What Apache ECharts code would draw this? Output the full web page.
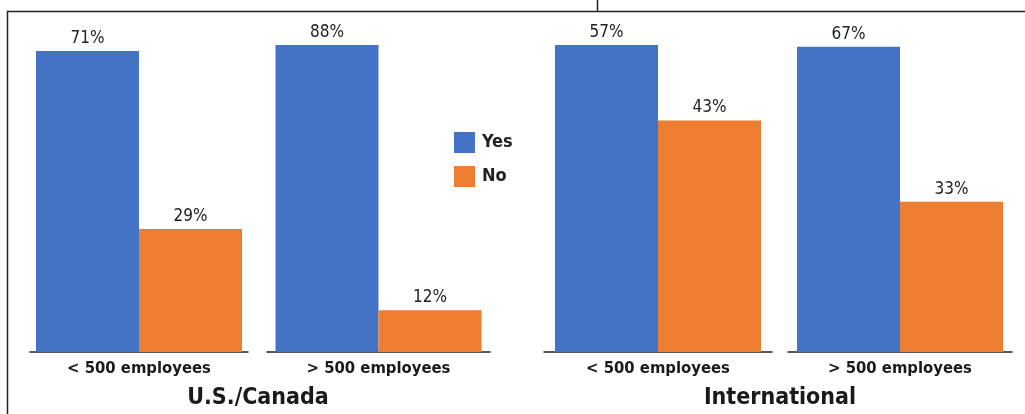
<!DOCTYPE html>
<html>
<head>
<meta charset="utf-8">
<script src="https://cdn.jsdelivr.net/npm/echarts@6/dist/echarts.min.js"></script>
<style>
html,body{margin:0;padding:0;background:#fff;}
#chart{width:1025px;height:414px;}
</style>
</head>
<body>
<div id="chart"></div>
<script>
// Data
var regions = ['U.S./Canada', 'International'];
var categories = ['< 500 employees', '> 500 employees', '< 500 employees', '> 500 employees'];
var seriesNames = ['Yes', 'No'];
var yesValues = [71, 88, 57, 67];
var noValues = [29, 12, 43, 33];
var axisMax = [72.4, 88, 57, 67.4];

var FONT = "'Liberation Sans Narrow', 'DejaVu Sans Condensed', 'Roboto Condensed', sans-serif";
var colors = ['#4472C4', '#ED7D31'];
var grids = [
  {left: 30, width: 218},
  {left: 267, width: 223},
  {left: 544, width: 228},
  {left: 788, width: 224}
];

var chart = echarts.init(document.getElementById('chart'), null, {renderer: 'canvas'});

var option = {
  backgroundColor: '#fff',
  animation: false,
  color: colors,
  legend: {
    orient: 'vertical',
    left: 454, top: 132, padding: 0,
    itemWidth: 21, itemHeight: 21, itemGap: 13,
    icon: 'rect',
    data: seriesNames,
    textStyle: {fontFamily: FONT, fontWeight: 'bold', fontSize: 18, color: '#222', padding: [0,0,0,2]}
  },
  title: [
    {text: regions[0], left: 258, top: 387, textAlign: 'center', padding: 0,
     textStyle: {fontFamily: FONT, fontWeight: 'bold', fontSize: 23, color: '#1a1a1a'}},
    {text: regions[1], left: 780, top: 387, textAlign: 'center', padding: 0,
     textStyle: {fontFamily: FONT, fontWeight: 'bold', fontSize: 23, color: '#1a1a1a'}}
  ],
  graphic: [
    {type: 'polyline', shape: {points: [[7.5, 414], [7.5, 11.5], [1025, 11.5]]},
     style: {stroke: '#222', lineWidth: 1.5, fill: null}},
    {type: 'line', shape: {x1: 597.5, y1: 0, x2: 597.5, y2: 11.5},
     style: {stroke: '#222', lineWidth: 1.5}}
  ],
  grid: grids.map(function (g) { return {left: g.left, width: g.width, top: 45, bottom: 62}; }),
  xAxis: grids.map(function (g, i) {
    return {
      type: 'category', gridIndex: i, data: [categories[i]],
      axisTick: {show: false},
      axisLine: {lineStyle: {color: '#222', width: 1.5}},
      axisLabel: {fontFamily: FONT, fontWeight: 'bold', fontSize: 16.5, color: '#1a1a1a', margin: 8}
    };
  }),
  yAxis: grids.map(function (g, i) {
    return {type: 'value', gridIndex: i, min: 0, max: axisMax[i], show: false, splitLine: {show: false}};
  }),
  series: []
};

[yesValues, noValues].forEach(function (vals, s) {
  vals.forEach(function (v, i) {
    option.series.push({
      type: 'bar', name: seriesNames[s], xAxisIndex: i, yAxisIndex: i,
      data: [v], barWidth: 103, barGap: '0%',
      itemStyle: {color: colors[s]},
      label: {show: true, position: 'top', distance: 4, formatter: '{c}%',
              fontFamily: FONT, fontSize: 17, color: '#222'}
    });
  });
});

chart.setOption(option);
</script>
</body>
</html>
